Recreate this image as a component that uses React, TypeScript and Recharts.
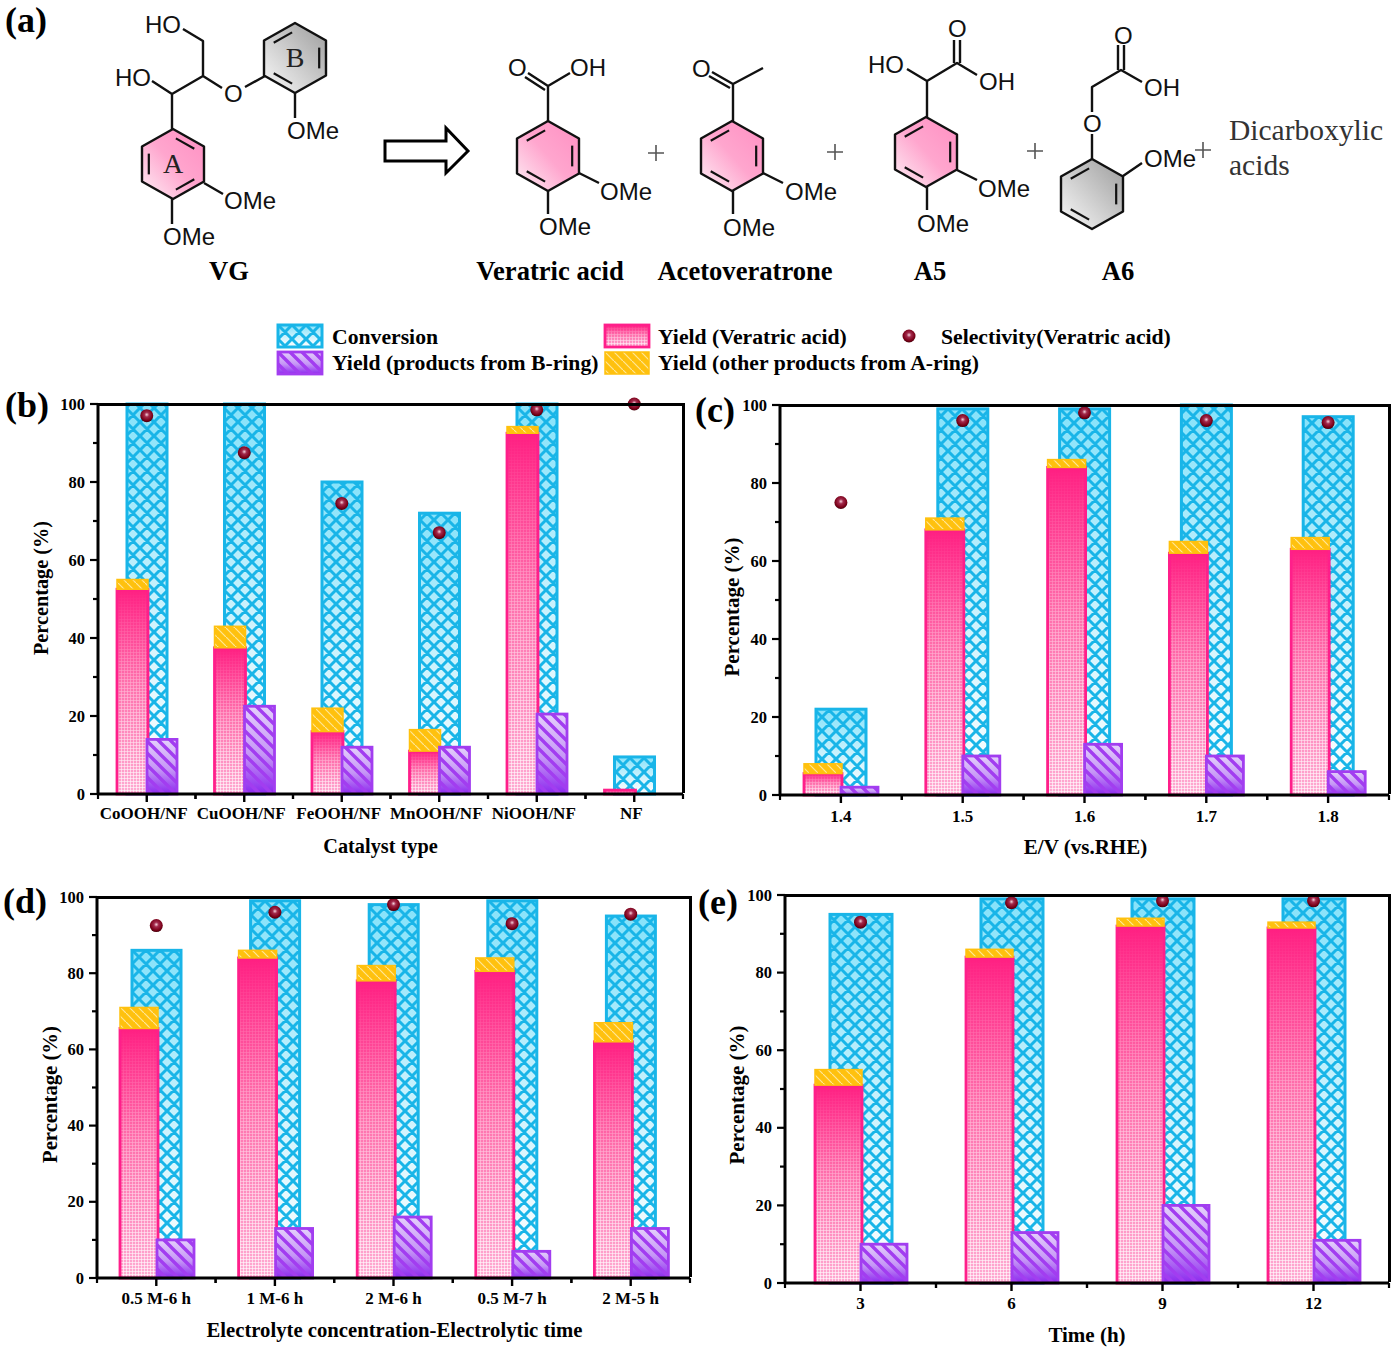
import React from "react";
import { ComposedChart, Bar, Scatter, XAxis, YAxis } from "recharts";

// ─── Data ─────────────────────────────────────────────────────────────────────

const catalystNames = ["CoOOH/NF", "CuOOH/NF", "FeOOH/NF", "MnOOH/NF", "NiOOH/NF", "NF"];
const catalystConversion = [100, 100, 80, 72, 100, 9.5];
const catalystVeratric = [52.5, 37.5, 16, 11, 92.5, 1];
const catalystOther = [2.5, 5.5, 6, 5.5, 1.7, 0];
const catalystBRing = [14, 22.5, 12, 12, 20.5, 0];
const catalystSelectivity = [97, 87.5, 74.5, 67, 98.5, 100];

const potentialNames = ["1.4", "1.5", "1.6", "1.7", "1.8"];
const potentialConversion = [22, 99, 99, 100, 97];
const potentialVeratric = [5.5, 68, 84, 62, 63];
const potentialOther = [2.5, 3, 2, 3, 3];
const potentialBRing = [2, 10, 13, 10, 6];
const potentialSelectivity = [75, 96, 98, 96, 95.5];

const electrolyteNames = ["0.5 M-6 h", "1 M-6 h", "2 M-6 h", "0.5 M-7 h", "2 M-5 h"];
const electrolyteConversion = [86, 99, 98, 99, 95];
const electrolyteVeratric = [65.5, 84, 78, 80.5, 62];
const electrolyteOther = [5.5, 2, 4, 3.5, 5];
const electrolyteBRing = [10, 13, 16, 7, 13];
const electrolyteSelectivity = [92.5, 96, 98, 93, 95.5];

const timeNames = ["3", "6", "9", "12"];
const timeConversion = [95, 99, 99, 99];
const timeVeratric = [51, 84, 92, 91.5];
const timeOther = [4, 2, 2, 1.5];
const timeBRing = [10, 13, 20, 11];
const timeSelectivity = [93, 98, 98.5, 98.5];

const yTicks = [0, 10, 20, 30, 40, 50, 60, 70, 80, 90, 100];

// ─── Fonts and colours ────────────────────────────────────────────────────────

const SERIF = '"Liberation Serif", serif';
const SANS = '"Liberation Sans", sans-serif';
const BLUE = "#19B5E8";
const PINK = "#FF1F8A";
const PURPLE = "#A23DF0";
const AMBER = "#FFC10E";

// ─── Shared svg paint servers ─────────────────────────────────────────────────

function Paints() {
  return (
    <svg width={0} height={0} style={{ position: "absolute" }}>
      <defs>
        <linearGradient id="convBg" x1="0" y1="0" x2="0" y2="1">
          <stop offset="0" stopColor="#86E2FA" />
          <stop offset="0.6" stopColor="#D4F4FD" />
          <stop offset="1" stopColor="#FFFFFF" />
        </linearGradient>
        <pattern id="convHatch" width={14} height={14} patternUnits="userSpaceOnUse">
          <path d="M-2 2 L2 -2 M0 14 L14 0 M12 16 L16 12 M-2 12 L2 16 M0 0 L14 14 M12 -2 L16 2" stroke={BLUE} strokeWidth={3} fill="none" />
        </pattern>
        <linearGradient id="yieldBg" x1="0" y1="0" x2="0" y2="1">
          <stop offset="0" stopColor="#FF1F82" />
          <stop offset="0.45" stopColor="#FF6FAC" />
          <stop offset="1" stopColor="#FFAAD2" />
        </linearGradient>
        <pattern id="fineGrid" width={3} height={3} patternUnits="userSpaceOnUse">
          <path d="M0 0.5 H3 M0.5 0 V3" stroke="#FFFFFF" strokeWidth={0.9} opacity={0.7} fill="none" />
        </pattern>
        <linearGradient id="fadeDown" x1="0" y1="0" x2="0" y2="1">
          <stop offset="0" stopColor="#000000" />
          <stop offset="0.25" stopColor="#333333" />
          <stop offset="1" stopColor="#FFFFFF" />
        </linearGradient>
        <mask id="fadeMask" maskContentUnits="objectBoundingBox">
          <rect width={1} height={1} fill="url(#fadeDown)" />
        </mask>
        <linearGradient id="ringBg" x1="0" y1="0" x2="0" y2="1">
          <stop offset="0" stopColor="#E4D0FB" />
          <stop offset="0.55" stopColor="#C596F6" />
          <stop offset="1" stopColor="#8C28EE" />
        </linearGradient>
        <pattern id="ringHatch" width={12} height={12} patternUnits="userSpaceOnUse">
          <path d="M-3 -3 L15 15 M9 -3 L15 3 M-3 9 L3 15" stroke={PURPLE} strokeWidth={3.4} fill="none" />
        </pattern>
        <pattern id="otherHatch" width={9} height={9} patternUnits="userSpaceOnUse">
          <path d="M0 0 L9 9" stroke="#FFF0B8" strokeWidth={1.2} opacity={0.8} fill="none" />
        </pattern>
        <radialGradient id="dotFill" cx="0.5" cy="0.42" r="0.6">
          <stop offset="0" stopColor="#F5D2DC" />
          <stop offset="0.3" stopColor="#A32A4C" />
          <stop offset="0.75" stopColor="#7A0018" />
          <stop offset="1" stopColor="#3C0008" />
        </radialGradient>
        <linearGradient id="pinkBenzene" x1="1" y1="0" x2="0" y2="1">
          <stop offset="0" stopColor="#FF8FC2" />
          <stop offset="0.5" stopColor="#FFA6CE" />
          <stop offset="1" stopColor="#FDF0F6" />
        </linearGradient>
        <linearGradient id="greyBenzene" x1="1" y1="0" x2="0" y2="1">
          <stop offset="0" stopColor="#9C9C9C" />
          <stop offset="1" stopColor="#FAFAFA" />
        </linearGradient>
      </defs>
    </svg>
  );
}

// ─── Bar painters ─────────────────────────────────────────────────────────────

function conversionShape(offset: number) {
  return (p: any) => {
    if (!p.height || p.height <= 0) return <g />;
    const r = { x: p.x + offset, y: p.y, width: p.width, height: p.height };
    return (
      <g>
        <rect {...r} fill="url(#convBg)" />
        <rect {...r} fill="url(#convHatch)" />
        <rect {...r} fill="none" stroke={BLUE} strokeWidth={3} />
      </g>
    );
  };
}

function veratricShape(offset: number) {
  return (p: any) => {
    if (!p.height || p.height <= 0) return <g />;
    const r = { x: p.x + offset, y: p.y, width: p.width, height: p.height };
    return (
      <g>
        <rect {...r} fill="url(#yieldBg)" />
        <rect {...r} fill="url(#fineGrid)" mask="url(#fadeMask)" />
        <rect {...r} fill="none" stroke={PINK} strokeWidth={2.8} />
      </g>
    );
  };
}

function otherShape(offset: number) {
  return (p: any) => {
    if (!p.height || p.height <= 0) return <g />;
    const r = { x: p.x + offset, y: p.y, width: p.width, height: p.height };
    return (
      <g>
        <rect {...r} fill={AMBER} />
        <rect {...r} fill="url(#otherHatch)" />
        <rect {...r} fill="none" stroke={AMBER} strokeWidth={1.5} />
      </g>
    );
  };
}

function bRingShape(offset: number) {
  return (p: any) => {
    if (!p.height || p.height <= 0) return <g />;
    const r = { x: p.x + offset, y: p.y, width: p.width, height: p.height };
    return (
      <g>
        <rect {...r} fill="url(#ringBg)" />
        <rect {...r} fill="url(#ringHatch)" />
        <rect {...r} fill="none" stroke={PURPLE} strokeWidth={2.8} />
      </g>
    );
  };
}

function SelectivityDot(p: any) {
  return <circle cx={p.cx} cy={p.cy} r={6.5} fill="url(#dotFill)" />;
}

// ─── Chart panel ──────────────────────────────────────────────────────────────

interface PanelProps {
  names: string[];
  conversion: number[];
  veratric: number[];
  other: number[];
  bRing: number[];
  selectivity: number[];
  plotLeft: number;
  plotTop: number;
  plotWidth: number;
  plotHeight: number;
  barWidths: [number, number, number];
  offsets: [number, number];
  xTitle: string;
  xTitleShift: number;
  titleSize: number;
  yTitleGap: number;
  yTitleShift: number;
  tickDy: number;
  tickShift: number;
}

const AXIS_BOX = 70;
const X_BOX = 75;

function Panel(props: PanelProps) {
  const { names, plotLeft, plotTop, plotWidth, plotHeight } = props;
  const data = names.map((name, i) => ({
    name,
    conversion: props.conversion[i],
    veratric: props.veratric[i],
    other: props.other[i],
    bRing: props.bRing[i],
    selectivity: props.selectivity[i],
  }));
  const band = plotWidth / names.length;

  const xTick = (t: any) => (
    <g>
      <line x1={t.x} x2={t.x} y1={t.y} y2={t.y + 8} stroke="#000" strokeWidth={2.4} />
      <line x1={t.x + band / 2} x2={t.x + band / 2} y1={t.y} y2={t.y + 5} stroke="#000" strokeWidth={2.2} />
      <line x1={t.x - band / 2} x2={t.x - band / 2} y1={t.y} y2={t.y + 5} stroke="#000" strokeWidth={2.2} />
      <text x={t.x + props.tickShift} y={t.y + props.tickDy} textAnchor="middle" fontFamily={SERIF} fontWeight={700} fontSize={17} fill="#000">
        {t.payload.value}
      </text>
    </g>
  );

  const yTick = (t: any) => {
    const major = t.payload.value % 20 === 0;
    return (
      <g>
        <line x1={t.x - (major ? 8 : 5)} x2={t.x} y1={t.y} y2={t.y} stroke="#000" strokeWidth={2.2} />
        {major && (
          <text x={t.x - 13} y={t.y + 5.5} textAnchor="end" fontFamily={SERIF} fontWeight={700} fontSize={16.5} fill="#000">
            {t.payload.value}
          </text>
        )}
      </g>
    );
  };

  const xLabel = () => (
    <text
      x={AXIS_BOX + plotWidth / 2 + props.xTitleShift}
      y={10 + plotHeight + 59}
      textAnchor="middle"
      fontFamily={SERIF}
      fontWeight={700}
      fontSize={props.titleSize}
      fill="#000"
    >
      {props.xTitle}
    </text>
  );

  const yLabel = () => {
    const lx = AXIS_BOX - props.yTitleGap;
    const ly = 10 + plotHeight / 2 + props.yTitleShift;
    return (
      <text
        transform={`rotate(-90 ${lx} ${ly})`}
        x={lx}
        y={ly}
        textAnchor="middle"
        dominantBaseline="central"
        fontFamily={SERIF}
        fontWeight={700}
        fontSize={props.titleSize}
        fill="#000"
      >
        Percentage (%)
      </text>
    );
  };

  const axisLine = { stroke: "#000", strokeWidth: 3 };

  return (
    <div style={{ position: "absolute", left: plotLeft - AXIS_BOX, top: plotTop - 10 }}>
      <ComposedChart
        width={AXIS_BOX + plotWidth + 6}
        height={10 + plotHeight + X_BOX}
        data={data}
        margin={{ top: 10, right: 6, bottom: 0, left: 0 }}
      >
        <XAxis
          dataKey="name"
          scale="band"
          interval={0}
          height={X_BOX}
          tickSize={0}
          tickMargin={0}
          tickLine={false}
          axisLine={axisLine}
          tick={xTick}
          label={{ content: xLabel }}
        />
        <XAxis xAxisId="yieldAxis" dataKey="name" scale="band" hide />
        <XAxis xAxisId="ringAxis" dataKey="name" scale="band" hide />
        <YAxis
          domain={[0, 100]}
          ticks={yTicks}
          interval={0}
          width={AXIS_BOX}
          tickSize={0}
          tickMargin={0}
          tickLine={false}
          axisLine={axisLine}
          tick={yTick}
          label={{ content: yLabel }}
        />

        <Bar dataKey="conversion" barSize={props.barWidths[0]} isAnimationActive={false} shape={conversionShape(0)} />
        <Bar xAxisId="yieldAxis" dataKey="veratric" stackId="a" barSize={props.barWidths[1]} isAnimationActive={false} shape={veratricShape(props.offsets[0])} />
        <Bar xAxisId="yieldAxis" dataKey="other" stackId="a" barSize={props.barWidths[1]} isAnimationActive={false} shape={otherShape(props.offsets[0])} />
        <Bar xAxisId="ringAxis" dataKey="bRing" barSize={props.barWidths[2]} isAnimationActive={false} shape={bRingShape(props.offsets[1])} />
        <Scatter dataKey="selectivity" isAnimationActive={false} shape={SelectivityDot} />
      </ComposedChart>
      {/* top and right sides of the plot frame, above the bars */}
      <div
        style={{
          position: "absolute",
          left: AXIS_BOX - 1.5,
          top: 10 - 1.5,
          width: plotWidth + 3,
          height: plotHeight,
          boxSizing: "border-box",
          borderTop: "3px solid #000",
          borderRight: "3px solid #000",
          pointerEvents: "none",
        }}
      />
    </div>
  );
}

// ─── Scheme (a) ───────────────────────────────────────────────────────────────

function Benzene(p: { cx: number; cy: number; fill: string; doubles: number[]; letter?: string }) {
  const rx = 31;
  const ry = 35;
  const pts: [number, number][] = [
    [p.cx, p.cy - ry],
    [p.cx + rx, p.cy - ry / 2],
    [p.cx + rx, p.cy + ry / 2],
    [p.cx, p.cy + ry],
    [p.cx - rx, p.cy + ry / 2],
    [p.cx - rx, p.cy - ry / 2],
  ];
  const inner = pts.map(([x, y]) => [p.cx + (x - p.cx) * 0.78, p.cy + (y - p.cy) * 0.78]);
  return (
    <g>
      <polygon points={pts.map((q) => q.join(",")).join(" ")} fill={p.fill} stroke="#111" strokeWidth={2.4} strokeLinejoin="round" />
      {p.doubles.map((i) => {
        const a = inner[i];
        const b = inner[(i + 1) % 6];
        return (
          <line
            key={i}
            x1={a[0] + (b[0] - a[0]) * 0.12}
            y1={a[1] + (b[1] - a[1]) * 0.12}
            x2={a[0] + (b[0] - a[0]) * 0.88}
            y2={a[1] + (b[1] - a[1]) * 0.88}
            stroke="#111"
            strokeWidth={2.2}
          />
        );
      })}
      {p.letter && (
        <text x={p.cx} y={p.cy + 9} textAnchor="middle" fontFamily={SERIF} fontSize={28} fill="#222">
          {p.letter}
        </text>
      )}
    </g>
  );
}

function Bond(p: { d: string }) {
  return <path d={p.d} fill="none" stroke="#111" strokeWidth={2.4} strokeLinejoin="round" />;
}

function Atom(p: { x: number; y: number; t: string }) {
  return (
    <text x={p.x} y={p.y + 9} fontFamily={SANS} fontSize={24} fill="#111">
      {p.t}
    </text>
  );
}

function Caption(p: { x: number; t: string }) {
  return (
    <text x={p.x} y={280} textAnchor="middle" fontFamily={SERIF} fontWeight={700} fontSize={26.6} fill="#000">
      {p.t}
    </text>
  );
}

function Plus(p: { x: number; y: number }) {
  return <path d={`M${p.x - 8} ${p.y} H${p.x + 8} M${p.x} ${p.y - 8} V${p.y + 8}`} stroke="#555" strokeWidth={1.6} />;
}

function Scheme() {
  return (
    <svg width={1394} height={300} style={{ position: "absolute", left: 0, top: 0 }}>
      {/* VG */}
      <Benzene cx={173} cy={164} fill="url(#pinkBenzene)" doubles={[0, 2, 4]} letter="A" />
      <Benzene cx={295} cy={58} fill="url(#greyBenzene)" doubles={[5, 1, 3]} letter="B" />
      <Bond d="M172 129 V94 L152 81 M172 94 L203 76 V41 L183 29 M203 76 L222 88 M245 87 L265 76 M295 93 V118 M204 183 L223 194 M172 199 V224" />
      <Atom x={115} y={77} t="HO" />
      <Atom x={145} y={24} t="HO" />
      <Atom x={224} y={93} t="O" />
      <Atom x={287} y={130} t="OMe" />
      <Atom x={224} y={200} t="OMe" />
      <Atom x={163} y={236} t="OMe" />
      <path d="M385 141 H446 V128 L468 151 L446 173 V161 H385 Z" fill="#fff" stroke="#000" strokeWidth={3} />
      {/* Veratric acid */}
      <Benzene cx={548} cy={156} fill="url(#pinkBenzene)" doubles={[5, 1, 3]} />
      <Bond d="M548 121 V86 L570 73 M548 86 L528 73 M545 90 L525 77 M579 173 L599 183 M548 191 V214" />
      <Atom x={508} y={67} t="O" />
      <Atom x={570} y={67} t="OH" />
      <Atom x={600} y={191} t="OMe" />
      <Atom x={539} y={226} t="OMe" />
      <Plus x={656} y={153} />
      {/* Acetoveratrone */}
      <Benzene cx={732} cy={156} fill="url(#pinkBenzene)" doubles={[5, 1, 3]} />
      <Bond d="M733 121 V84 L763 68 M733 84 L712 72 M730 88 L709 76 M763 173 L783 183 M733 191 V214" />
      <Atom x={692} y={68} t="O" />
      <Atom x={785} y={191} t="OMe" />
      <Atom x={723} y={227} t="OMe" />
      <Plus x={835} y={152} />
      {/* A5 */}
      <Benzene cx={926} cy={152} fill="url(#pinkBenzene)" doubles={[5, 1, 3]} />
      <Bond d="M927 117 V81 L907 69 M927 81 L957 63 L977 75 M954 63 V40 M960 63 V40 M957 170 L977 180 M927 187 V210" />
      <Atom x={868} y={64} t="HO" />
      <Atom x={948} y={28} t="O" />
      <Atom x={979} y={81} t="OH" />
      <Atom x={978} y={188} t="OMe" />
      <Atom x={917} y={223} t="OMe" />
      <Plus x={1035} y={151} />
      {/* A6 */}
      <Benzene cx={1092} cy={194} fill="url(#greyBenzene)" doubles={[5, 1, 3]} />
      <Bond d="M1092 159 V134 M1092 112 V87 L1121 70 L1142 82 M1118 70 V45 M1124 70 V45 M1123 176 L1142 163" />
      <Atom x={1083} y={123} t="O" />
      <Atom x={1114} y={35} t="O" />
      <Atom x={1144} y={87} t="OH" />
      <Atom x={1144} y={158} t="OMe" />
      <Plus x={1203} y={150} />
      <text x={1229} y={140} fontFamily={SERIF} fontSize={29.5} fill="#333">Dicarboxylic</text>
      <text x={1229} y={175} fontFamily={SERIF} fontSize={29.5} fill="#333">acids</text>
      <Caption x={229} t="VG" />
      <Caption x={550} t="Veratric acid" />
      <Caption x={745} t="Acetoveratrone" />
      <Caption x={930} t="A5" />
      <Caption x={1118} t="A6" />
    </svg>
  );
}

// ─── Legend ───────────────────────────────────────────────────────────────────

const legendNames = [
  "Conversion",
  "Yield (Veratric acid)",
  "Selectivity(Veratric acid)",
  "Yield (products from B-ring)",
  "Yield (other products from A-ring)",
];

function SharedLegend() {
  const sw = { width: 44, height: 22 };
  const text = { fontFamily: SERIF, fontWeight: 700, fontSize: 21.7, fill: "#000" };
  return (
    <svg width={1394} height={80} style={{ position: "absolute", left: 0, top: 310 }}>
      <g transform="translate(278 15)">{conversionShape(0)({ x: 0, y: 0, ...sw })}</g>
      <g transform="translate(605 15)">{veratricShape(0)({ x: 0, y: 0, ...sw })}</g>
      <g transform="translate(278 42)">{bRingShape(0)({ x: 0, y: 0, ...sw })}</g>
      <g transform="translate(605 42)">{otherShape(0)({ x: 0, y: 0, ...sw })}</g>
      <circle cx={909} cy={26} r={6.5} fill="url(#dotFill)" />
      <text x={332} y={34} {...text}>{legendNames[0]}</text>
      <text x={658} y={34} {...text}>{legendNames[1]}</text>
      <text x={941} y={34} {...text}>{legendNames[2]}</text>
      <text x={332} y={60} {...text}>{legendNames[3]}</text>
      <text x={658} y={60} {...text}>{legendNames[4]}</text>
    </svg>
  );
}

function PanelTag(p: { x: number; y: number; t: string }) {
  return (
    <div style={{ position: "absolute", left: p.x, top: p.y, fontFamily: SERIF, fontWeight: 700, fontSize: 36, lineHeight: "40px", color: "#000" }}>
      {p.t}
    </div>
  );
}

// ─── Page ─────────────────────────────────────────────────────────────────────

export default function App() {
  return (
    <div style={{ position: "absolute", left: 0, top: 0, width: 1394, height: 1350, background: "#fff", overflow: "hidden" }}>
      <Paints />
      <Scheme />
      <SharedLegend />
      <PanelTag x={5} y={0} t="(a)" />
      <PanelTag x={5} y={385} t="(b)" />
      <PanelTag x={695} y={390} t="(c)" />
      <PanelTag x={3} y={881} t="(d)" />
      <PanelTag x={698} y={882} t="(e)" />

      <Panel
        names={catalystNames}
        conversion={catalystConversion}
        veratric={catalystVeratric}
        other={catalystOther}
        bRing={catalystBRing}
        selectivity={catalystSelectivity}
        plotLeft={98}
        plotTop={404}
        plotWidth={585}
        plotHeight={390}
        barWidths={[40, 31, 30]}
        offsets={[-14, 15]}
        xTitle="Catalyst type"
        xTitleShift={-10}
        titleSize={20.3}
        yTitleGap={57}
        yTitleShift={-11}
        tickDy={25}
        tickShift={-3}
      />
      <Panel
        names={potentialNames}
        conversion={potentialConversion}
        veratric={potentialVeratric}
        other={potentialOther}
        bRing={potentialBRing}
        selectivity={potentialSelectivity}
        plotLeft={780}
        plotTop={405}
        plotWidth={609}
        plotHeight={390}
        barWidths={[50, 38, 37]}
        offsets={[-18, 19]}
        xTitle="E/V (vs.RHE)"
        xTitleShift={1}
        titleSize={21}
        yTitleGap={48}
        yTitleShift={7}
        tickDy={27}
        tickShift={0}
      />
      <Panel
        names={electrolyteNames}
        conversion={electrolyteConversion}
        veratric={electrolyteVeratric}
        other={electrolyteOther}
        bRing={electrolyteBRing}
        selectivity={electrolyteSelectivity}
        plotLeft={97}
        plotTop={897}
        plotWidth={593}
        plotHeight={381}
        barWidths={[49, 38, 37]}
        offsets={[-17, 19]}
        xTitle="Electrolyte concentration-Electrolytic time"
        xTitleShift={1}
        titleSize={20.7}
        yTitleGap={47}
        yTitleShift={7}
        tickDy={26}
        tickShift={0}
      />
      <Panel
        names={timeNames}
        conversion={timeConversion}
        veratric={timeVeratric}
        other={timeOther}
        bRing={timeBRing}
        selectivity={timeSelectivity}
        plotLeft={785}
        plotTop={895}
        plotWidth={604}
        plotHeight={388}
        barWidths={[62, 47, 46]}
        offsets={[-22, 23]}
        xTitle="Time (h)"
        xTitleShift={0}
        titleSize={21}
        yTitleGap={48}
        yTitleShift={6}
        tickDy={26}
        tickShift={0}
      />
    </div>
  );
}
